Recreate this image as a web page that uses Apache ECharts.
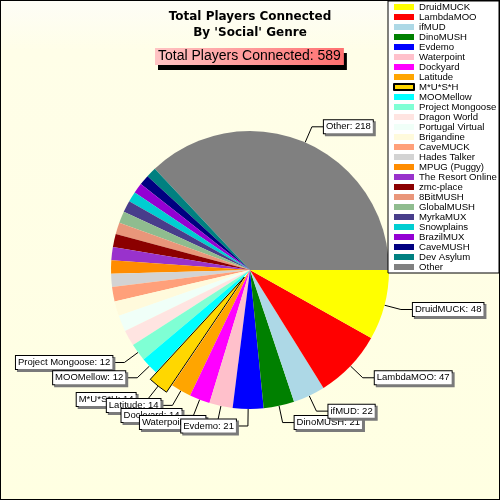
<!DOCTYPE html>
<html>
<head>
<meta charset="utf-8">
<script src="https://cdn.jsdelivr.net/npm/echarts@6/dist/echarts.min.js"></script>
<style>
  html, body { margin: 0; padding: 0; background: #fff; }
  #wrap { position: relative; width: 500px; height: 500px; }
  #chart { position: absolute; left: 0; top: 0; width: 500px; height: 500px; }
  #frame { position: absolute; left: 0; top: 0; width: 500px; height: 500px; box-sizing: border-box; border: 1px solid #000; pointer-events: none; }
</style>
</head>
<body>
<div id="wrap"><div id="chart"></div><div id="frame"></div></div>
<script>
const titleLines = ["Total Players Connected", "By 'Social' Genre"];
const subtitleText = "Total Players Connected: 589";

const names = [
  "DruidMUCK", "LambdaMOO", "ifMUD", "DinoMUSH", "Evdemo", "Waterpoint",
  "Dockyard", "Latitude", "M*U*S*H", "MOOMellow", "Project Mongoose",
  "Dragon World", "Portugal Virtual", "Brigandine", "CaveMUCK", "Hades Talker",
  "MPUG (Puggy)", "The Resort Online", "zmc-place", "8BitMUSH", "GlobalMUSH",
  "MyrkaMUX", "Snowplains", "BrazilMUX", "CaveMUSH", "Dev Asylum", "Other"
];
const values = [
  48, 47, 22, 21, 21, 16,
  14, 14, 14, 12, 12,
  11, 11, 10, 10, 9,
  9, 9, 9, 8, 8,
  8, 7, 7, 7, 7, 218
];
const colors = [
  "#ffff00", "#ff0000", "#add8e6", "#008000", "#0000ff", "#ffc0cb",
  "#ff00ff", "#ffa500", "#ffd700", "#00ffff", "#7fffd4",
  "#ffe4e1", "#f0fff8", "#fffadc", "#ffa07a", "#d3d3d3",
  "#ff8c00", "#9932cc", "#8b0000", "#e9967a", "#8fbc8f",
  "#483d8b", "#00ced1", "#9400d3", "#000080", "#008080", "#808080"
];
const explodedName = "M*U*S*H";
const labelMinValue = 12;

const data = names.map((n, i) => {
  const showLab = values[i] >= labelMinValue;
  const item = {
    name: n,
    value: values[i],
    itemStyle: { color: colors[i] },
    label: { show: showLab },
    labelLine: { show: showLab }
  };
  if (n === explodedName) {
    item.selected = true;
    item.itemStyle.borderColor = "#000";
    item.itemStyle.borderWidth = 1;
  }
  return item;
});
// drawn in reverse (counter-clockwise) so that the first slices' labels sit on top
const drawData = data.slice().reverse();

const chart = echarts.init(document.getElementById("chart"), null, { renderer: "canvas" });
chart.setOption({
  animation: false,
  backgroundColor: {
    type: "linear", x: 0, y: 0, x2: 0, y2: 1,
    colorStops: [
      { offset: 0, color: "#fdfdf6" },
      { offset: 0.1, color: "#fffee8" },
      { offset: 1, color: "#ffffe2" }
    ]
  },
  title: [
    {
      text: titleLines.join("\n"),
      left: "center",
      top: 9,
      padding: 0,
      textStyle: {
        fontFamily: "DejaVu Sans",
        fontWeight: "bold",
        fontSize: 12,
        lineHeight: 16,
        color: "#000",
        align: "center"
      }
    },
    {
      text: subtitleText,
      left: 155,
      top: 48,
      padding: [1, 3, 1, 3],
      backgroundColor: {
        type: "linear", x: 0, y: 0, x2: 1, y2: 0,
        colorStops: [
          { offset: 0, color: "#ffc4c4" },
          { offset: 1, color: "#ff7070" }
        ]
      },
      shadowColor: "#000",
      shadowBlur: 0,
      shadowOffsetX: 3,
      shadowOffsetY: 5,
      textStyle: {
        fontFamily: "Liberation Sans",
        fontWeight: "normal",
        fontSize: 14,
        lineHeight: 15,
        color: "#000"
      }
    }
  ],
  legend: {
    orient: "vertical",
    left: 388,
    top: 1,
    padding: [1, 1, 1, 5],
    itemWidth: 20,
    itemHeight: 6,
    itemGap: 0,
    icon: "rect",
    backgroundColor: "#fff",
    borderColor: "#000",
    borderWidth: 1,
    selectedMode: false,
    textStyle: {
      fontFamily: "Liberation Sans",
      fontSize: 9.6,
      lineHeight: 10,
      color: "#000",
      width: 79,
      overflow: "truncate",
      ellipsis: ""
    },
    data: names
  },
  series: [
    {
      type: "pie",
      center: [250, 270],
      radius: 139,
      startAngle: 0,
      clockwise: false,
      selectedMode: "single",
      selectedOffset: 9,
      avoidLabelOverlap: false,
      labelLayout: { hideOverlap: false },
      emphasis: { disabled: true },
      label: {
        position: "outside",
        formatter: "{b}: {c}",
        fontFamily: "Liberation Sans",
        fontSize: 9.5,
        color: "#000",
        backgroundColor: "#fff",
        borderColor: "#000",
        borderWidth: 1,
        padding: [2, 2, 1, 2],
        shadowColor: "#7a7a7a",
        shadowBlur: 0,
        shadowOffsetX: 2,
        shadowOffsetY: 2,
        distanceToLabelLine: 0
      },
      labelLine: {
        length: 17,
        length2: 12,
        lineStyle: { color: "#000", width: 1 }
      },
      data: drawData
    }
  ]
});
</script>
</body>
</html>
